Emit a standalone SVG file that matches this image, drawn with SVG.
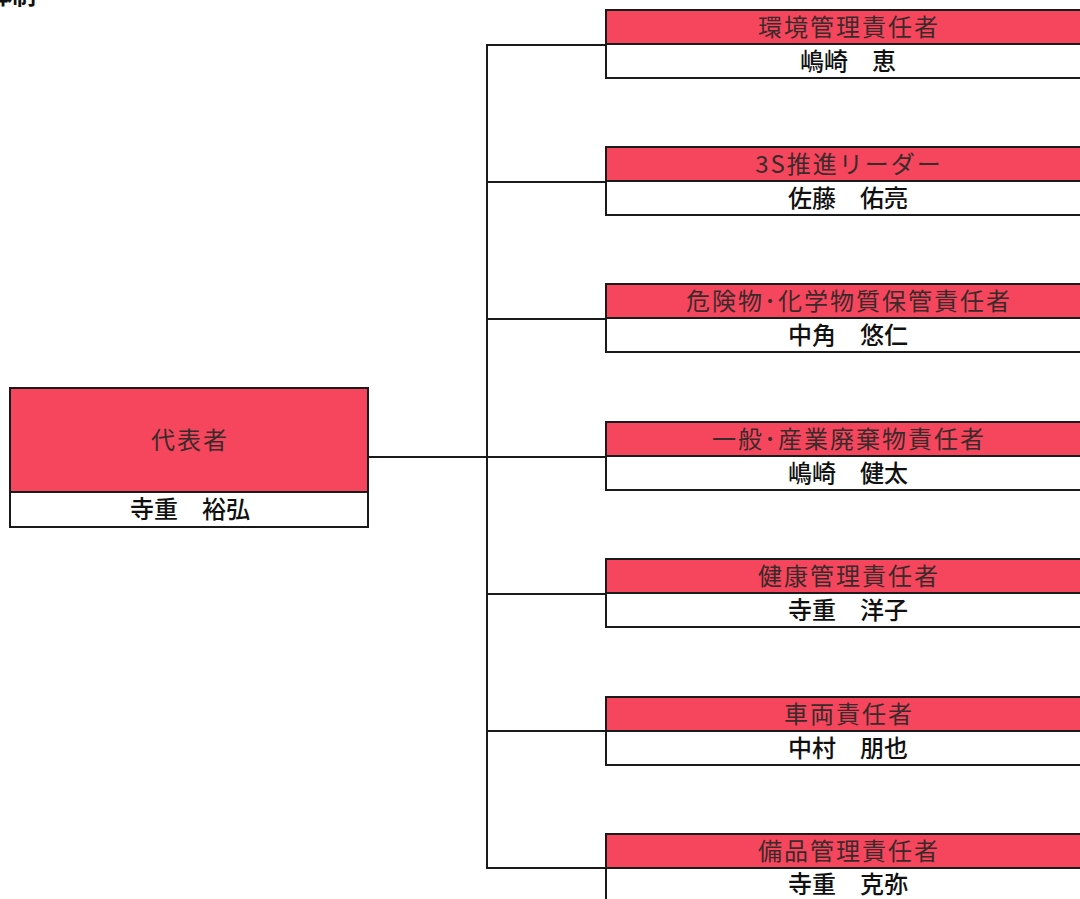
<svg xmlns="http://www.w3.org/2000/svg" width="1080" height="899" viewBox="0 0 1080 899">
<style>
.bg{fill:#ffffff}
.hd{fill:#f5465e;stroke:#1a1a1a;stroke-width:2}
.nm{fill:#ffffff;stroke:#1a1a1a;stroke-width:2}
.t{font-family:"Noto Sans CJK JP","Noto Sans CJK SC",sans-serif;font-size:24px;letter-spacing:2px;fill:#3a2a2a;text-anchor:middle;dominant-baseline:central}
.n{font-family:"Noto Sans CJK JP","Noto Sans CJK SC",sans-serif;font-size:24px;fill:#111;text-anchor:middle;dominant-baseline:central;font-weight:500}
.c{fill:none;stroke:#1a1a1a;stroke-width:2}
</style>
<rect class="bg" x="0" y="0" width="1080" height="899"/>
<text x="36" y="4" font-family="Noto Sans CJK JP, sans-serif" font-size="24" font-weight="bold" fill="#111" text-anchor="end">体制</text>
<g id="connectors">
<path class="c" d="M368 457 H606"/>
<path class="c" d="M606 45 H487 V868 H606"/>
<path class="c" d="M487 182 H606 M487 319 H606 M487 594 H606 M487 731 H606"/>
</g>
<g id="n0">
<rect class="hd" x="10" y="388" width="358" height="104"/>
<rect class="nm" x="10" y="492" width="358" height="35"/>
<text class="t" x="190" y="438">代表者</text>
<text class="n" x="190" y="507">寺重　裕弘</text>
</g>
<g id="n1">
<rect class="hd" x="606" y="10" width="484" height="34"/>
<rect class="nm" x="606" y="44" width="484" height="34"/>
<text class="t" x="849" y="25">環境管理責任者</text>
<text class="n" x="848" y="59">嶋崎　恵</text>
</g>
<g id="n2">
<rect class="hd" x="606" y="147" width="484" height="34"/>
<rect class="nm" x="606" y="181" width="484" height="34"/>
<text class="t" x="849" y="162">3S推進リーダー</text>
<text class="n" x="848" y="196">佐藤　佑亮</text>
</g>
<g id="n3">
<rect class="hd" x="606" y="284" width="484" height="34"/>
<rect class="nm" x="606" y="318" width="484" height="34"/>
<text class="t" x="849" y="299">危険物･化学物質保管責任者</text>
<text class="n" x="848" y="333">中角　悠仁</text>
</g>
<g id="n4">
<rect class="hd" x="606" y="422" width="484" height="34"/>
<rect class="nm" x="606" y="456" width="484" height="34"/>
<text class="t" x="849" y="437">一般･産業廃棄物責任者</text>
<text class="n" x="848" y="471">嶋崎　健太</text>
</g>
<g id="n5">
<rect class="hd" x="606" y="559" width="484" height="34"/>
<rect class="nm" x="606" y="593" width="484" height="34"/>
<text class="t" x="849" y="574">健康管理責任者</text>
<text class="n" x="848" y="608">寺重　洋子</text>
</g>
<g id="n6">
<rect class="hd" x="606" y="697" width="484" height="34"/>
<rect class="nm" x="606" y="731" width="484" height="34"/>
<text class="t" x="849" y="712">車両責任者</text>
<text class="n" x="848" y="746">中村　朋也</text>
</g>
<g id="n7">
<rect class="hd" x="606" y="834" width="484" height="34"/>
<rect class="nm" x="606" y="868" width="484" height="40"/>
<text class="t" x="849" y="849">備品管理責任者</text>
<text class="n" x="848" y="882">寺重　克弥</text>
</g>
</svg>
